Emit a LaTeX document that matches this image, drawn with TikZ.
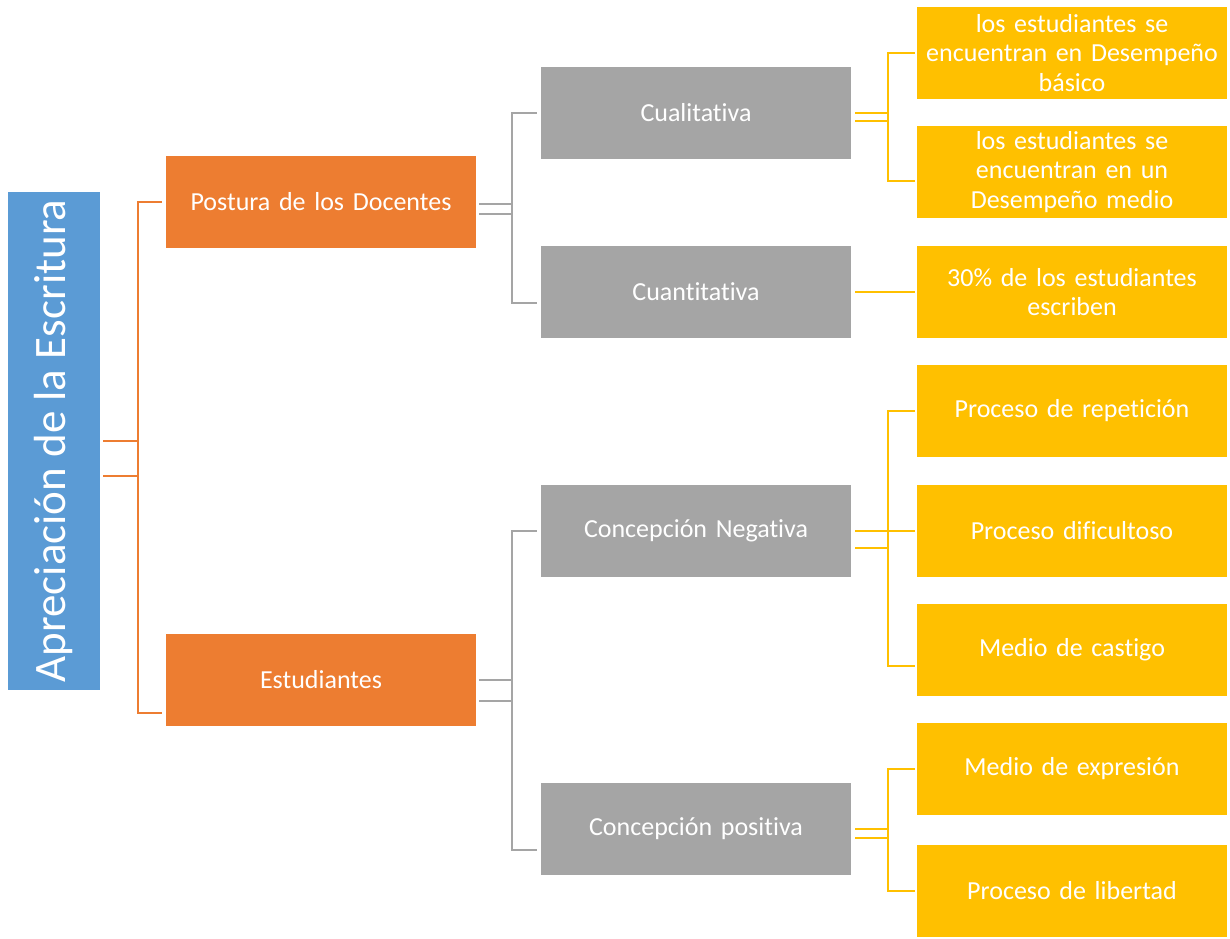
\documentclass[tikz,border=0pt]{standalone}
\usepackage{fontspec}
\setmainfont{Carlito}[Ligatures={NoCommon}]
\usetikzlibrary{calc}
\definecolor{cblue}{HTML}{5B9BD5}
\definecolor{corange}{HTML}{ED7D31}
\definecolor{cgray}{HTML}{A5A5A5}
\definecolor{cyellow}{HTML}{FFC000}
\tikzset{
  box/.style={minimum width=310pt, minimum height=92pt, inner sep=0pt, text=white, align=center, text width=304pt, font=\fontsize{26}{29.5}\selectfont},
  obox/.style={box, fill=corange},
  gbox/.style={box, fill=cgray},
  ybox/.style={box, fill=cyellow},
  oline/.style={draw=corange, line width=2pt},
  gline/.style={draw=cgray, line width=2pt},
  yline/.style={draw=cyellow, line width=2pt},
}
\begin{document}
\begin{tikzpicture}[x=1pt,y=-1pt]
\useasboundingbox (0,0) rectangle (1230,938);
\node[fill=cblue, minimum width=498pt, minimum height=92pt, inner sep=0pt, text=white, rotate=90, font=\fontsize{45}{50}\selectfont] (blue) at (54,441) {Apreciación de la Escritura};
\node[obox] (post) at (321,202) {Postura de los Docentes};
\node[obox] (stud) at (321,680) {Estudiantes};
\node[gbox] (cual) at (696,113) {Cualitativa};
\node[gbox] (cuan) at (696,292) {Cuantitativa};
\node[gbox] (neg) at (696,531) {Concepción Negativa};
\node[gbox] (pos) at (696,829) {Concepción positiva};
\node[ybox] (y1) at (1072,53) {los estudiantes se\\encuentran en Desempeño\\básico};
\node[ybox] (y2) at (1072,172) {los estudiantes se\\encuentran en un\\Desempeño medio};
\node[ybox] (y3) at (1072,292) {30\% de los estudiantes\\escriben};
\node[ybox] (y4) at (1072,411) {Proceso de repetición};
\node[ybox] (y5) at (1072,531) {Proceso dificultoso};
\node[ybox] (y6) at (1072,650) {Medio de castigo};
\node[ybox] (y7) at (1072,769) {Medio de expresión};
\node[ybox] (y8) at (1072,891) {Proceso de libertad};
% orange connectors
\coordinate (bE) at ($(blue.center)+(49,0)$);
\draw[oline] (bE) -- ++(35,0);
\draw[oline] ($(bE)+(0,35)$) -- ++(35,0);
\draw[oline] ([xshift=-4]post.west) -- ++(-24,0) |- ([xshift=-4,yshift=-33]stud.west);
% gray connectors
\draw[gline] ([xshift=3,yshift=-2]post.east) -- ++(34,0);
\draw[gline] ([xshift=3,yshift=-12]post.east) -- ++(34,0);
\draw[gline] ([xshift=-4]cual.west) -- ++(-25,0) |- ([xshift=-4,yshift=-11]cuan.west);
\draw[gline] ([xshift=3]stud.east) -- ++(34,0);
\draw[gline] ([xshift=3,yshift=-21]stud.east) -- ++(34,0);
\draw[gline] ([xshift=-4]neg.west) -- ++(-25,0) |- ([xshift=-4,yshift=-21]pos.west);
% yellow connectors
\draw[yline] ([xshift=4]cual.east) -- ++(33,0);
\draw[yline] ([xshift=4,yshift=-8]cual.east) -- ++(33,0);
\draw[yline] ([xshift=-2]y1.west) -- ++(-27,0) |- ([xshift=-2,yshift=-9]y2.west);
\draw[yline] ([xshift=4]cuan.east) -- ([xshift=-2]y3.west);
\draw[yline] ([xshift=4]neg.east) -- ([xshift=-2]y5.west);
\draw[yline] ([xshift=4,yshift=-17]neg.east) -- ++(33,0);
\draw[yline] ([xshift=-2]y4.west) -- ++(-27,0) |- ([xshift=-2,yshift=-16]y6.west);
\draw[yline] ([xshift=4]pos.east) -- ++(33,0);
\draw[yline] ([xshift=4,yshift=-9]pos.east) -- ++(33,0);
\draw[yline] ([xshift=-2]y7.west) -- ++(-27,0) |- ([xshift=-2]y8.west);
\end{tikzpicture}
\end{document}
